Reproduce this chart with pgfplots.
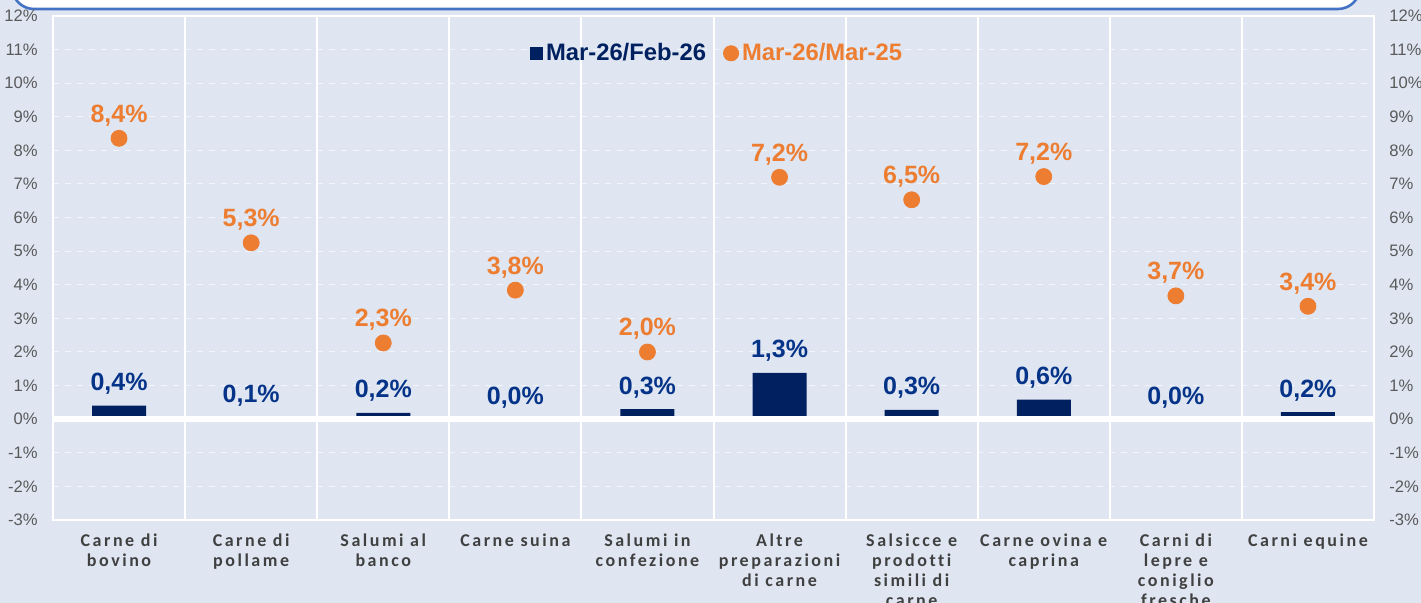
\documentclass[border=0pt]{standalone}
\usepackage{pgfplots}
\pgfplotsset{compat=1.18}
\usepackage{fontspec}
\setmainfont{Liberation Sans}
\newfontfamily\catfont[LetterSpace=14, Ligatures={NoCommon}]{Carlito}
\definecolor{bgc}{HTML}{DFE6F2}
\definecolor{navy}{HTML}{002060}
\definecolor{lblnavy}{HTML}{053388}
\definecolor{orng}{HTML}{ED7D31}
\definecolor{tickgray}{HTML}{595959}
\definecolor{catgray}{HTML}{404040}
\definecolor{boxblue}{HTML}{4472C4}
\pgfplotstableread{
x bar barlbl dot dotlbl
0 0.40 0,4\% 8.36 8,4\%
1 0.06 0,1\% 5.25 5,3\%
2 0.19 0,2\% 2.27 2,3\%
3 0.00 0,0\% 3.84 3,8\%
4 0.30 0,3\% 2.00 2,0\%
5 1.38 1,3\% 7.20 7,2\%
6 0.28 0,3\% 6.53 6,5\%
7 0.58 0,6\% 7.22 7,2\%
8 0.00 0,0\% 3.67 3,7\%
9 0.21 0,2\% 3.36 3,4\%
}\datatable
\begin{document}
\begin{tikzpicture}
\useasboundingbox (0,0) rectangle (710.5pt,301.5pt);
\clip (0,0) rectangle (710.5pt,301.5pt);
\fill[bgc] (0,0) rectangle (710.5pt,301.5pt);
\draw[fill=white, draw=boxblue, line width=1.3pt, rounded corners=11pt] (6pt,297pt) rectangle (680pt,340pt);
\begin{axis}[
  at={(26.5pt,41.5pt)}, anchor=south west,
  scale only axis, width=660.5pt, height=252pt,
  xmin=-0.5, xmax=9.5, ymin=-3, ymax=12,
  axis line style={white, line width=1pt},
  xtick={0,...,9},
  xticklabels={{Carne di\\bovino},{Carne di\\pollame},{Salumi al\\banco},{Carne suina},{Salumi in\\confezione},{Altre\\preparazioni\\di carne},{Salsicce e\\prodotti\\simili di\\carne},{Carne ovina e\\caprina},{Carni di\\lepre e\\coniglio\\fresche},{Carni equine}},
  xticklabel style={align=center, font=\catfont\bfseries\fontsize{9}{10}\selectfont, text=catgray, inner sep=0pt, yshift=-6.5pt},
  minor xtick={0.5,1.5,...,8.5},
  minor x grid style={white, line width=1pt},
  xminorgrids,
  major tick length=0pt, minor tick length=0pt,
  ytick={-3,...,12},
  yticklabel={\pgfmathprintnumber{\tick}\%},
  yticklabel style={font=\fontsize{8.3}{9}\selectfont, text=tickgray, inner sep=0pt, xshift=-7.5pt},
  /pgf/number format/assume math mode=true,
  ymajorgrids,
  major y grid style={white, line width=0.5pt, dashed, opacity=0.6},
  legend style={at={(0.503,0.926)}, anchor=center, draw=none, fill=none,
    legend columns=2, font=\bfseries\fontsize{11.9}{14}\selectfont,
    /tikz/every even column/.append style={column sep=7pt},
    nodes={inner sep=1.5pt}},
  legend cell align=left,
]
\addplot[ybar, bar width=27pt, bar shift=0pt, fill=navy, draw=none,
  point meta=explicit symbolic,
  nodes near coords,
  nodes near coords style={anchor=base, yshift=7.5pt, inner sep=0pt, text=lblnavy, font=\bfseries\fontsize{12.5}{14}\selectfont},
  legend image code/.code={\fill[navy] (0pt,-3.3pt) rectangle (6.6pt,3.3pt);}
] table[x=x, y=bar, meta=barlbl] {\datatable};
\addlegendentry{\textcolor{navy}{Mar-26/Feb-26}}
\draw[white, line width=3pt] (axis cs:-0.5,0) -- (axis cs:9.5,0);
\addplot[only marks, mark=*, mark size=4pt, color=orng,
  point meta=explicit symbolic,
  nodes near coords,
  nodes near coords style={anchor=base, yshift=8pt, inner sep=0pt, text=orng, font=\bfseries\fontsize{12.5}{14}\selectfont},
  legend image code/.code={\fill[orng] (3.8pt,0pt) circle (3.8pt);}
] table[x=x, y=dot, meta=dotlbl] {\datatable};
\addlegendentry{\textcolor{orng}{Mar-26/Mar-25}}
\end{axis}
\begin{axis}[
  at={(26.5pt,41.5pt)}, anchor=south west,
  scale only axis, width=660.5pt, height=252pt,
  xmin=-0.5, xmax=9.5, ymin=-3, ymax=12,
  axis y line*=right, hide x axis,
  axis line style={draw=none},
  major tick length=0pt,
  ytick={-3,...,12},
  yticklabel={\pgfmathprintnumber{\tick}\%},
  yticklabel style={font=\fontsize{8.3}{9}\selectfont, text=tickgray, inner sep=0pt, xshift=7.5pt},
  /pgf/number format/assume math mode=true,
]
\addplot[draw=none] coordinates {(0,0)};
\end{axis}
\end{tikzpicture}
\end{document}
